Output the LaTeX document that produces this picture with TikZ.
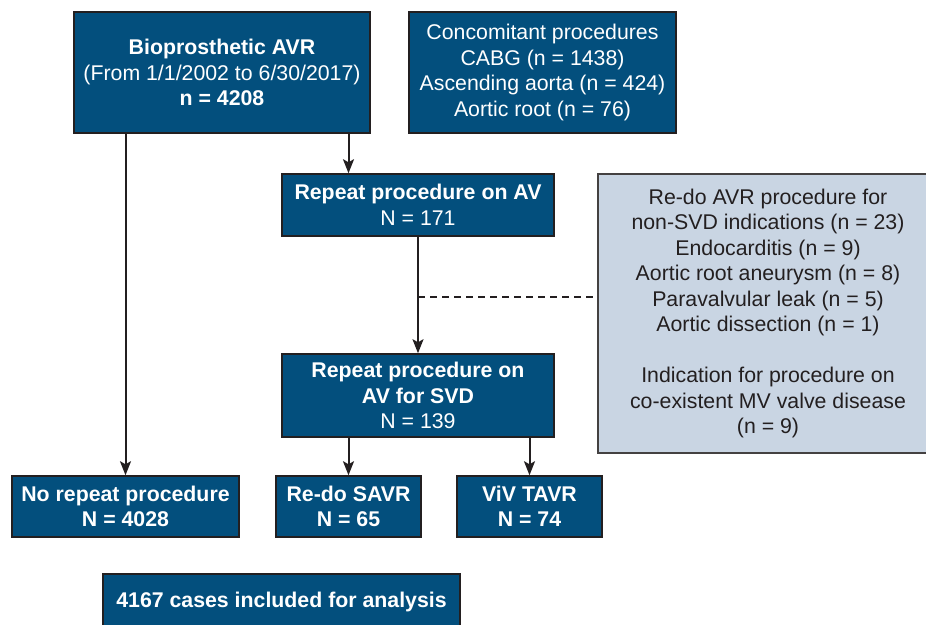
\documentclass[tikz,border=0pt]{standalone}
\usepackage{fontspec}
\setmainfont{Liberation Sans}
\usetikzlibrary{arrows.meta}
\definecolor{avrblue}{HTML}{034F7D}
\definecolor{notegray}{HTML}{C9D5E3}
\definecolor{edge}{HTML}{231F20}

\begin{document}
\begin{tikzpicture}[x=1pt,y=-1pt,font=\fontsize{21.3}{25.5}\selectfont,
  bluebox/.style={draw=edge,line width=1.5pt,fill=avrblue,text=white,align=center,inner sep=0pt},
  notebox/.style={draw=edge!85,line width=1.5pt,fill=notegray,text=edge,align=center,inner sep=0pt},
  arr/.style={draw=edge,line width=2pt,-{Stealth[length=14pt,width=11pt,inset=3pt]}}]
  \useasboundingbox (0,0) rectangle (926,624);
  \clip (0,0) rectangle (926,624);
  % top row
  \node[bluebox,minimum width=296,minimum height=121] (avr) at (222,72.5) {\textbf{Bioprosthetic AVR}\\(From 1/1/2002 to 6/30/2017)\\\textbf{n = 4208}};
  \node[bluebox,minimum width=267,minimum height=121] (conc) at (542.5,72.5) {Concomitant procedures\\CABG (n = 1438)\\Ascending aorta (n = 424)\\Aortic root (n = 76)};
  % repeat procedures
  \node[bluebox,minimum width=272,minimum height=62] (rep) at (418,205) {\textbf{Repeat procedure on AV}\\N = 171};
  \node[bluebox,minimum width=272,minimum height=83] (svd) at (418,395.5) {\textbf{Repeat procedure on}\\\textbf{AV for SVD}\\N = 139};
  \node[notebox,minimum width=340,minimum height=279] (note) at (768,313.5) {Re-do AVR procedure for\\non-SVD indications (n = 23)\\Endocarditis (n = 9)\\Aortic root aneurysm (n = 8)\\Paravalvular leak (n = 5)\\Aortic dissection (n = 1)\\[25.5pt]Indication for procedure on\\co-existent MV valve disease\\(n = 9)};
  % outcomes
  \node[bluebox,minimum width=227,minimum height=61] (norep) at (125.5,506.5) {\textbf{No repeat procedure}\\\textbf{N = 4028}};
  \node[bluebox,minimum width=145,minimum height=61] (redo) at (348.5,506.5) {\textbf{Re-do SAVR}\\\textbf{N = 65}};
  \node[bluebox,minimum width=145,minimum height=61] (viv) at (529.5,506.5) {\textbf{ViV TAVR}\\\textbf{N = 74}};
  \node[bluebox,minimum width=357,minimum height=56] (total) at (281.5,602) {\textbf{4167 cases included for analysis}};
  % connectors
  \draw[arr] (avr.south -| norep.north) -- (norep.north);
  \draw[arr] (avr.south -| redo.north) -- (rep.north -| redo.north);
  \draw[arr] (rep.south) -- (svd.north);
  \draw[arr] (svd.south -| redo.north) -- (redo.north);
  \draw[arr] (svd.south -| viv.north) -- (viv.north);
  \coordinate (split) at (418,297);
  \draw[edge,line width=1.5pt,dash pattern=on 7pt off 5pt] (split) -- (split -| note.west);
\end{tikzpicture}
\end{document}
